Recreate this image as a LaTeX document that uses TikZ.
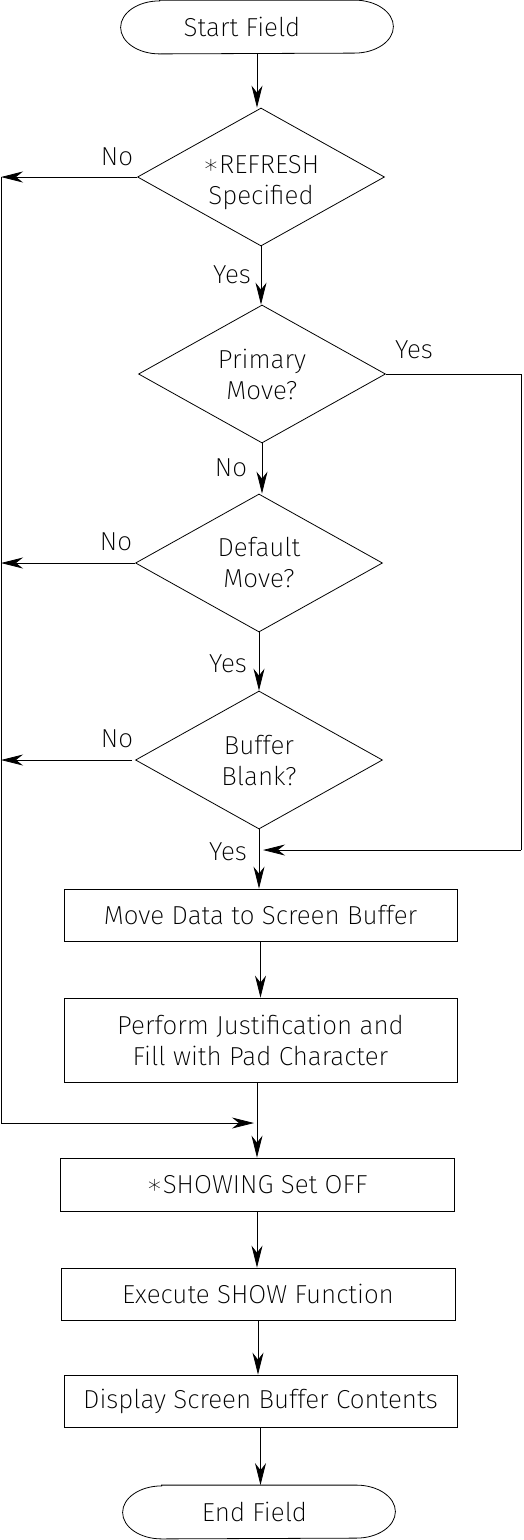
\documentclass[tikz,border=0pt]{standalone}
\usepackage{fontspec}
\IfFontExistsTF{Fira Sans ExtraLight}
  {\setmainfont{Fira Sans ExtraLight}}
  {\IfFontExistsTF{Fira Sans Light}
    {\setmainfont{Fira Sans Light}}
    {\setmainfont{Liberation Sans}}}
\IfFontExistsTF{DejaVu Sans ExtraLight}
  {\newfontfamily\symfnt{DejaVu Sans ExtraLight}}
  {\newfontfamily\symfnt{DejaVu Sans}}
\usetikzlibrary{shapes.geometric,arrows.meta}
\newcommand\termoutline[1]{%
  \draw ([xshift=39pt]#1.north west) -- ([xshift=-39pt]#1.north east)
    arc[start angle=90,end angle=-90,x radius=39pt,y radius=26.5pt]
    -- ([xshift=39pt]#1.south west)
    arc[start angle=270,end angle=90,x radius=39pt,y radius=26.5pt] -- cycle;}
\newcommand\starmark{{\symfnt ∗}}
\begin{document}
\begin{tikzpicture}[x=1pt,y=-1pt,line width=0.8pt,
  every node/.style={font=\fontsize{26}{31}\selectfont},
  dec/.style={diamond,draw,inner sep=0pt,minimum width=247pt,minimum height=138pt,aspect=1.79,align=center},
  proc/.style={draw,rectangle,inner sep=0pt,minimum width=393pt,align=center},
  term/.style={rectangle,inner sep=0pt,minimum width=272pt,minimum height=53pt},
  arr/.style={-{Stealth[length=22pt,width=11pt,inset=7pt]}},
  lbl/.style={inner sep=0pt}]
\useasboundingbox (0,0) rectangle (523,1540);

% nodes
\node[term] (start) at (257,27) {Start Field\hspace*{30pt}};
\termoutline{start}
\node[dec,text height=60pt,text depth=6pt] (d1) at (261,177) {\starmark REFRESH\\Specified};
\node[dec] (d2) at (262,374) {Primary\\Move?};
\node[dec] (d3) at (259,563) {Default\\Move?};
\node[dec] (d4) at (259,760) {Buffer\\Blank?};
\node[proc,minimum height=52pt] (b1) at (260.5,915) {Move Data to Screen Buffer};
\node[proc,minimum height=84pt] (b2) at (260.5,1040) {Perform Justification and\\Fill with Pad Character};
\node[proc,minimum width=394pt,minimum height=53pt] (b3) at (257,1184.5) {\starmark SHOWING Set OFF};
\node[proc,minimum width=394pt,minimum height=52pt] (b4) at (258,1294) {Execute SHOW Function};
\node[proc,minimum height=52pt] (b5) at (260.5,1401) {Display Screen Buffer Contents};
\node[term] (end) at (259,1512) {End Field\hspace*{9pt}};
\termoutline{end}

% labels
\node[lbl] (no1) at (117,157) {No};
\node[lbl] (yes1) at (232,275) {Yes};
\node[lbl] (yes2) at (414,350) {Yes};
\node[lbl] (no2) at (231,468) {No};
\node[lbl] (no3) at (116,542) {No};
\node[lbl] (yes3) at (228,664) {Yes};
\node[lbl] (no4) at (117,739) {No};
\node[lbl] (yes4) at (228,852) {Yes};

% coordinates
\coordinate (Ltop) at (1,177);
\coordinate (Lbot) at (1,1123);
\coordinate (J) at (257,1123);
\coordinate (R) at (521,850);

% main flow
\draw[arr] (start.south) -- (start.south |- d1.north);
\draw[arr] (d1.south) -- (d1.south |- d2.north);
\draw[arr] (d2.south) -- (d2.south |- d3.north);
\draw[arr] (d3.south) -- (d3.south |- d4.north);
\draw[arr] (d4.south) -- (d4.south |- b1.north);
\draw[arr] (b1.south) -- (b1.south |- b2.north);
\draw[arr] (J |- b2.south) -- (J |- b3.north);
\draw[arr] (b3.south) -- (b3.south |- b4.north);
\draw[arr] (b4.south) -- (b4.south |- b5.north);
\draw[arr] (b5.south) -- (b5.south |- end.north);

% No branches to the left
\draw[arr] (d1.west) -- (d1.west -| Ltop);
\draw[arr] (d3.west) -- (d3.west -| Ltop);
\draw[arr] ([xshift=-3pt]d4.west) -- (d4.west -| Ltop);
\draw (Ltop) -- (Lbot);
\draw[arr] (Lbot) -- ([xshift=-3pt]J);

% Yes branch on the right
\draw (d2.east) -| (R);
\draw[arr] (R) -- ([xshift=4pt]R -| d4.south);
\end{tikzpicture}
\end{document}
